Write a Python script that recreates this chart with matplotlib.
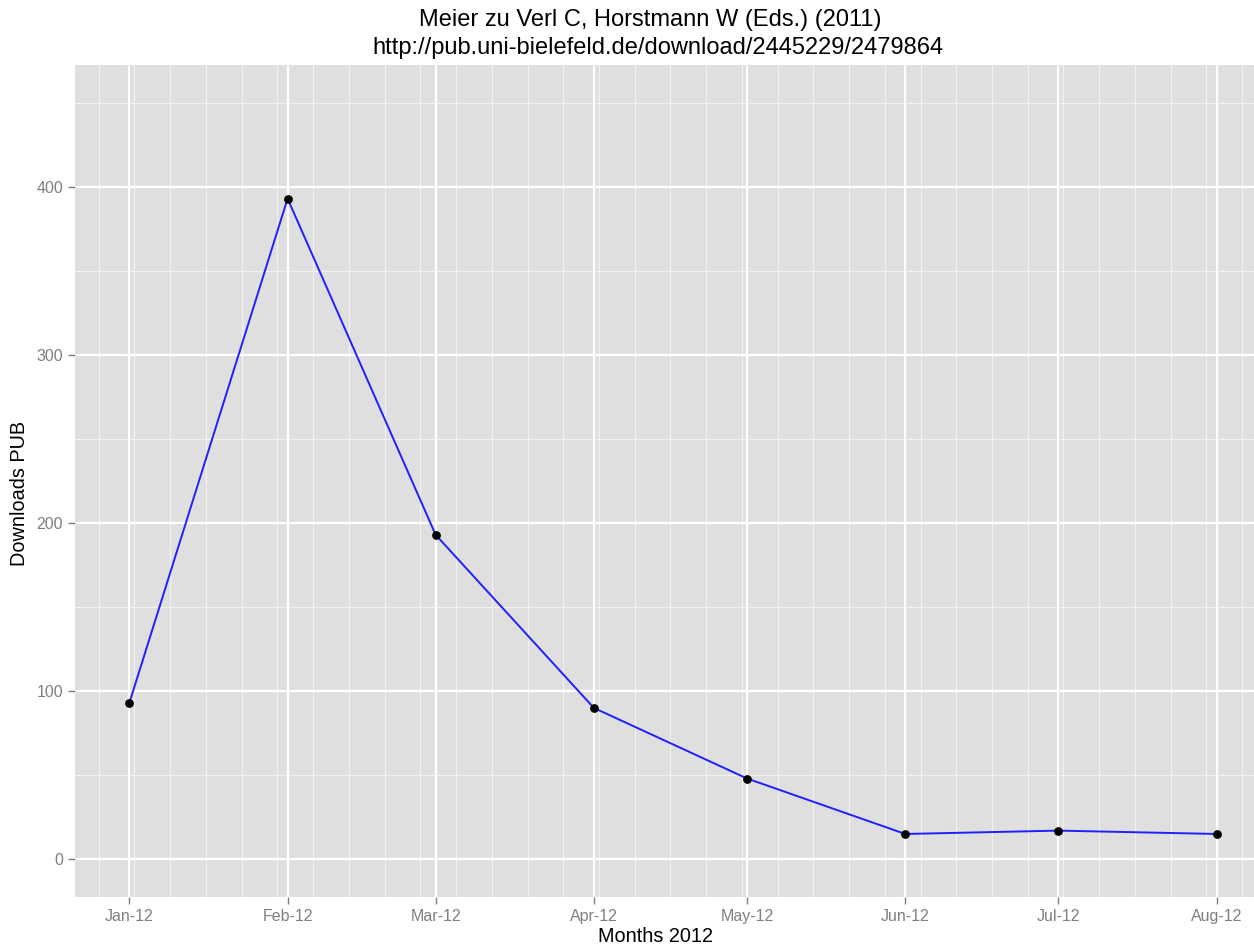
import numpy as np
import pandas as pd
import matplotlib
matplotlib.use("Agg")
import matplotlib.pyplot as plt
import matplotlib.dates as mdates

plt.rcParams['font.family'] = ['Liberation Sans', 'DejaVu Sans']

# data
months = ["2012-01-01", "2012-02-01", "2012-03-01", "2012-04-01",
          "2012-05-01", "2012-06-01", "2012-07-01", "2012-08-01"]
downloads = [93, 393, 193, 90, 48, 15, 17, 15]
month_labels = ["Jan-12", "Feb-12", "Mar-12", "Apr-12", "May-12", "Jun-12", "Jul-12", "Aug-12"]

dates = pd.to_datetime(months)

fig = plt.figure(figsize=(12.54, 9.47), dpi=100)
W, H = 1254, 947
# panel spans past right edge (reference is cropped there)
left, right, top, bottom = 75, 1271, 65, 897
ax = fig.add_axes([left / W, 1 - bottom / H, (right - left) / W, (bottom - top) / H])

ax.set_facecolor("#DFDFDF")
for s in ax.spines.values():
    s.set_visible(False)

# limits like ggplot (expanded by 5%)
x0 = mdates.date2num(dates[0])
x1 = mdates.date2num(dates[-1])
pad = (x1 - x0) * 0.05
ax.set_xlim(x0 - pad, x1 + pad)
ax.set_ylim(-22.5, 472.5)

# grid lines
minor_x = pd.date_range("2011-12-26", "2012-08-20", freq="W-MON")
for d in minor_x:
    ax.axvline(mdates.date2num(d), color="#F2F2F2", lw=0.8, zorder=0)
for v in [50, 150, 250, 350, 450]:
    ax.axhline(v, color="#F2F2F2", lw=0.8, zorder=0)
for d in dates:
    ax.axvline(mdates.date2num(d), color="white", lw=1.6, zorder=1)
for v in [0, 100, 200, 300, 400]:
    ax.axhline(v, color="white", lw=1.6, zorder=1)

ax.plot(dates, downloads, color="#1F1FFF", lw=1.4, zorder=2)
ax.scatter(dates, downloads, color="black", s=28, zorder=3)

ax.set_xticks(dates)
ax.set_xticklabels(month_labels)
ax.set_yticks([0, 100, 200, 300, 400])
ax.tick_params(axis="both", colors="#7F7F7F", labelcolor="#7F7F7F",
               labelsize=11.5, length=5, width=1)

# labels placed by hand (panel runs off the right edge)
fig.text(655 / W, 1 - 936 / H, "Months 2012", ha="center", va="center", fontsize=14.3)
fig.text(20 / W, 1 - 493 / H, "Downloads PUB", ha="center", va="center",
         rotation=90, fontsize=14.3)
fig.text(650 / W, 1 - 20 / H, "Meier zu Verl C, Horstmann W (Eds.) (2011)",
         ha="center", va="center", fontsize=17)
fig.text(658 / W, 1 - 48 / H, "http://pub.uni-bielefeld.de/download/2445229/2479864",
         ha="center", va="center", fontsize=17)

fig.savefig("out.png", dpi=100)
